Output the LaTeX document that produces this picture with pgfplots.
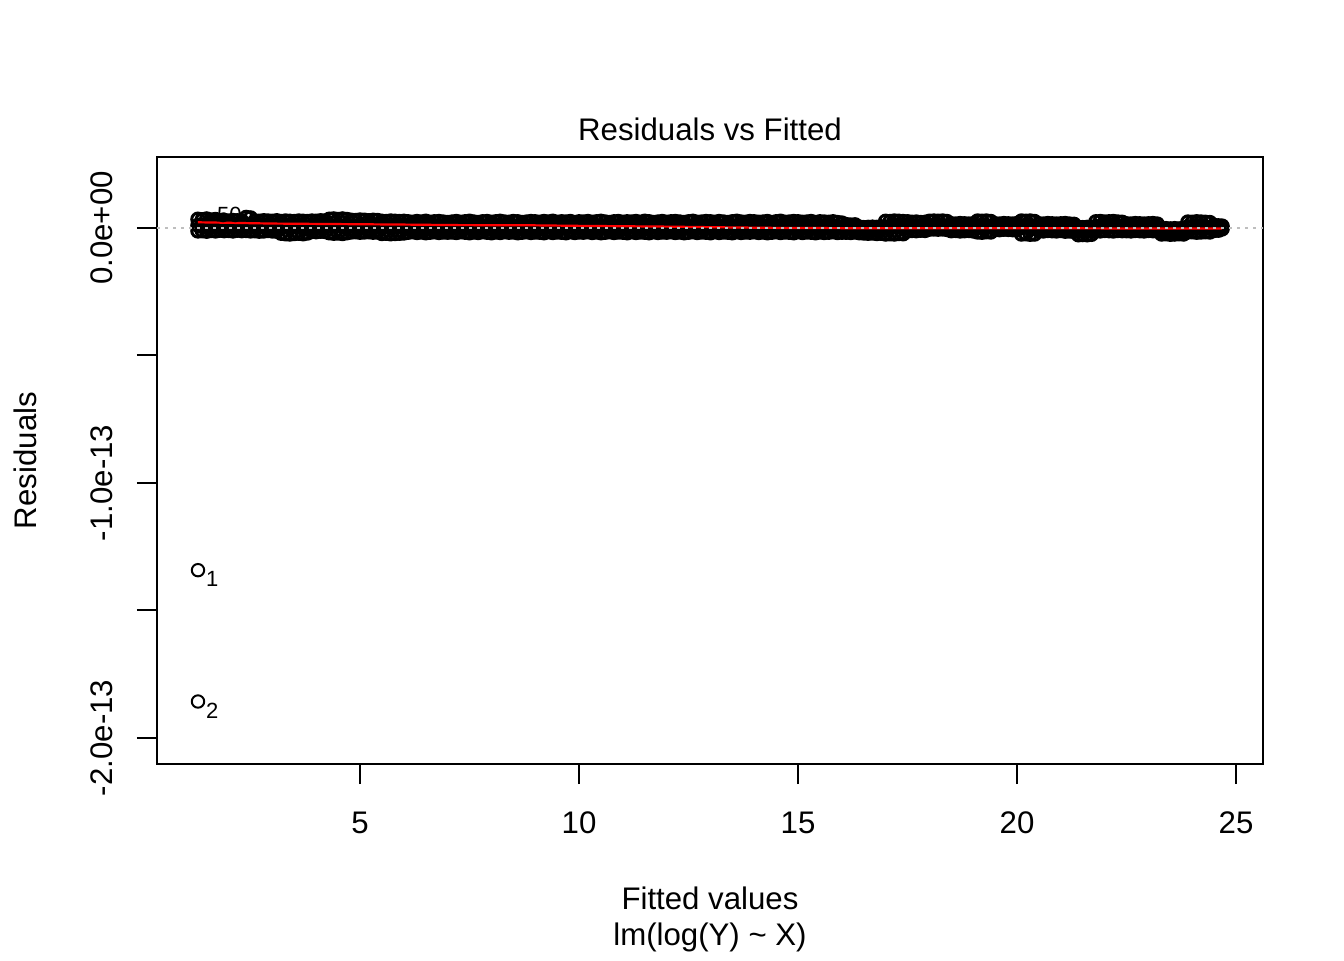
\documentclass[border=0pt]{standalone}
\usepackage{pgfplots}
\pgfplotsset{compat=1.18}
\usepackage{pgfplotstable}
\usepackage{fontspec}
\setmainfont{Liberation Sans}
\definecolor{rgray}{RGB}{190,190,190}
\newcommand{\mainfont}{\fontsize{15.6}{18}\selectfont}
\newcommand{\idfont}{\fontsize{11}{13}\selectfont}
\pgfplotstableread{
x u l m
1.3 0.034 -0.012 0.010
1.4 0.032 -0.011 0.008
1.5 0.035 -0.013 0.011
1.6 0.031 -0.010 0.009
1.7 0.033 -0.012 0.007
1.8 0.028 -0.009 0.010
1.9 0.029 -0.011 0.006
2.0 0.027 -0.010 0.009
2.1 0.029 -0.012 0.008
2.2 0.028 -0.009 0.006
2.3 0.027 -0.011 0.010
2.4 0.041 -0.010 0.008
2.5 0.039 -0.012 0.007
2.6 0.027 -0.011 0.009
2.7 0.026 -0.013 0.006
2.8 0.028 -0.012 0.008
2.9 0.027 -0.010 0.007
3.0 0.026 -0.012 0.009
3.1 0.028 -0.013 0.006
3.2 0.025 -0.021 0.004
3.3 0.027 -0.023 0.005
3.4 0.026 -0.024 0.003
3.5 0.025 -0.022 0.006
3.6 0.027 -0.021 0.004
3.7 0.026 -0.023 0.005
3.8 0.025 -0.020 0.003
3.9 0.027 -0.014 0.006
4.0 0.026 -0.015 0.005
4.1 0.028 -0.013 0.007
4.2 0.027 -0.014 0.006
4.3 0.034 -0.019 0.008
4.4 0.035 -0.021 0.007
4.5 0.033 -0.020 0.009
4.6 0.035 -0.022 0.006
4.7 0.033 -0.019 0.008
4.8 0.030 -0.016 0.007
4.9 0.029 -0.015 0.005
5.0 0.031 -0.017 0.008
5.1 0.030 -0.016 0.006
5.2 0.028 -0.015 0.007
5.3 0.030 -0.017 0.005
5.4 0.029 -0.016 0.006
5.5 0.026 -0.022 0.004
5.6 0.025 -0.021 0.005
5.7 0.027 -0.023 0.003
5.8 0.026 -0.022 0.004
5.9 0.025 -0.021 0.005
6.0 0.026 -0.020 0.003
6.1 0.024 -0.017 0.004
6.2 0.022 -0.015 0.002
6.3 0.025 -0.018 0.005
6.4 0.023 -0.016 0.003
6.5 0.026 -0.019 0.006
6.6 0.022 -0.017 0.004
6.7 0.024 -0.015 0.003
6.8 0.025 -0.018 0.005
6.9 0.023 -0.016 0.002
7.0 0.021 -0.017 0.004
7.1 0.023 -0.016 0.003
7.2 0.025 -0.018 0.005
7.3 0.022 -0.015 0.004
7.4 0.024 -0.017 0.002
7.5 0.026 -0.019 0.006
7.6 0.023 -0.016 0.003
7.7 0.021 -0.018 0.005
7.8 0.024 -0.015 0.004
7.9 0.025 -0.017 0.002
8.0 0.022 -0.019 0.003
8.1 0.024 -0.016 0.005
8.2 0.026 -0.018 0.004
8.3 0.023 -0.015 0.006
8.4 0.022 -0.017 0.003
8.5 0.025 -0.016 0.002
8.6 0.024 -0.019 0.004
8.7 0.021 -0.017 0.005
8.8 0.023 -0.015 0.003
8.9 0.025 -0.018 0.004
9.0 0.024 -0.016 0.002
9.1 0.022 -0.017 0.005
9.2 0.025 -0.019 0.003
9.3 0.023 -0.015 0.004
9.4 0.026 -0.018 0.006
9.5 0.022 -0.016 0.002
9.6 0.024 -0.017 0.004
9.7 0.023 -0.019 0.003
9.8 0.025 -0.015 0.005
9.9 0.021 -0.018 0.004
10.0 0.024 -0.016 0.003
10.1 0.023 -0.017 0.002
10.2 0.025 -0.015 0.005
10.3 0.022 -0.018 0.004
10.4 0.024 -0.016 0.003
10.5 0.026 -0.019 0.006
10.6 0.023 -0.017 0.002
10.7 0.021 -0.015 0.004
10.8 0.024 -0.018 0.005
10.9 0.025 -0.016 0.003
11.0 0.022 -0.017 0.004
11.1 0.024 -0.019 0.002
11.2 0.023 -0.015 0.005
11.3 0.025 -0.018 0.003
11.4 0.022 -0.016 0.004
11.5 0.026 -0.017 0.006
11.6 0.024 -0.019 0.002
11.7 0.021 -0.015 0.004
11.8 0.023 -0.018 0.003
11.9 0.025 -0.016 0.005
12.0 0.022 -0.017 0.004
12.1 0.024 -0.015 0.003
12.2 0.025 -0.018 0.002
12.3 0.023 -0.016 0.005
12.4 0.021 -0.019 0.004
12.5 0.024 -0.017 0.003
12.6 0.026 -0.015 0.006
12.7 0.022 -0.018 0.002
12.8 0.023 -0.016 0.004
12.9 0.025 -0.017 0.003
13.0 0.024 -0.019 0.005
13.1 0.022 -0.015 0.004
13.2 0.025 -0.018 0.002
13.3 0.023 -0.016 0.003
13.4 0.021 -0.017 0.005
13.5 0.024 -0.019 0.004
13.6 0.026 -0.015 0.003
13.7 0.023 -0.018 0.006
13.8 0.022 -0.016 0.002
13.9 0.025 -0.017 0.004
14.0 0.024 -0.015 0.003
14.1 0.022 -0.018 0.005
14.2 0.023 -0.016 0.004
14.3 0.025 -0.019 0.002
14.4 0.021 -0.017 0.003
14.5 0.024 -0.015 0.005
14.6 0.026 -0.018 0.004
14.7 0.022 -0.016 0.006
14.8 0.023 -0.017 0.002
14.9 0.025 -0.019 0.004
15.0 0.024 -0.015 0.003
15.1 0.022 -0.018 0.005
15.2 0.023 -0.016 0.002
15.3 0.025 -0.017 0.004
15.4 0.021 -0.019 0.003
15.5 0.024 -0.016 0.005
15.6 0.023 -0.018 0.004
15.7 0.022 -0.017 0.002
15.8 0.024 -0.015 0.003
15.9 0.021 -0.018 0.004
16.0 0.019 -0.017 0.003
16.1 0.013 -0.017 0.002
16.2 0.011 -0.018 0.001
16.3 0.012 -0.016 0.000
16.4 0.003 -0.019 -0.004
16.5 0.001 -0.020 -0.006
16.6 0.002 -0.021 -0.005
16.7 0.003 -0.020 -0.004
16.8 0.002 -0.022 -0.006
16.9 0.004 -0.021 -0.005
17.0 0.026 -0.024 0.004
17.1 0.025 -0.023 0.003
17.2 0.027 -0.024 0.005
17.3 0.026 -0.022 0.004
17.4 0.025 -0.023 0.003
17.5 0.024 -0.012 0.005
17.6 0.022 -0.010 0.004
17.7 0.023 -0.011 0.006
17.8 0.021 -0.009 0.003
17.9 0.022 -0.010 0.005
18.0 0.026 -0.005 0.007
18.1 0.027 -0.004 0.008
18.2 0.026 -0.005 0.006
18.3 0.027 -0.004 0.009
18.4 0.025 -0.006 0.007
18.5 0.016 -0.011 0.002
18.6 0.015 -0.010 0.003
18.7 0.017 -0.012 0.001
18.8 0.016 -0.011 0.003
18.9 0.015 -0.010 0.002
19.0 0.016 -0.012 0.001
19.1 0.027 -0.016 0.005
19.2 0.026 -0.017 0.004
19.3 0.027 -0.015 0.006
19.4 0.025 -0.016 0.004
19.5 0.016 -0.006 0.004
19.6 0.015 -0.007 0.003
19.7 0.017 -0.005 0.005
19.8 0.016 -0.006 0.004
19.9 0.015 -0.007 0.003
20.0 0.017 -0.006 0.005
20.1 0.027 -0.024 0.002
20.2 0.026 -0.023 0.003
20.3 0.027 -0.025 0.001
20.4 0.025 -0.024 0.002
20.5 0.016 -0.011 0.003
20.6 0.015 -0.012 0.002
20.7 0.017 -0.010 0.004
20.8 0.016 -0.011 0.003
20.9 0.015 -0.012 0.002
21.0 0.016 -0.010 0.004
21.1 0.017 -0.013 0.002
21.2 0.015 -0.012 0.003
21.3 0.014 -0.014 0.001
21.4 0.002 -0.027 -0.010
21.5 0.001 -0.026 -0.012
21.6 0.002 -0.027 -0.011
21.7 0.003 -0.025 -0.010
21.8 0.024 -0.011 0.005
21.9 0.025 -0.012 0.004
22.0 0.023 -0.010 0.006
22.1 0.024 -0.011 0.005
22.2 0.025 -0.012 0.004
22.3 0.023 -0.010 0.006
22.4 0.022 -0.011 0.004
22.5 0.016 -0.011 0.002
22.6 0.015 -0.012 0.003
22.7 0.017 -0.010 0.001
22.8 0.016 -0.011 0.003
22.9 0.015 -0.012 0.002
23.0 0.016 -0.010 0.001
23.1 0.017 -0.011 0.003
23.2 0.015 -0.012 0.002
23.3 -0.004 -0.024 -0.014
23.4 -0.003 -0.023 -0.013
23.5 -0.004 -0.025 -0.015
23.6 -0.003 -0.024 -0.014
23.7 -0.004 -0.023 -0.013
23.8 -0.002 -0.024 -0.012
23.9 0.023 -0.016 0.004
24.0 0.022 -0.015 0.003
24.1 0.024 -0.017 0.005
24.2 0.023 -0.016 0.004
24.3 0.022 -0.015 0.003
24.4 0.021 -0.016 0.002
24.5 0.010 -0.010 0.000
24.6 0.008 -0.009 -0.001
24.68 0.007 -0.004 0.001
}\resid
\begin{document}
\begin{tikzpicture}
\path[use as bounding box] (0,0) rectangle (672pt,480pt);
\begin{axis}[
  at={(78.5pt,98pt)}, anchor=south west,
  scale only axis, width=553pt, height=303.5pt,
  xmin=0.365, xmax=25.615, ymin=-2.102, ymax=0.278,
  clip mode=individual,
  axis line style={line width=1pt},
  xtick={5,10,15,20,25}, xticklabels={5,10,15,20,25},
  ytick={-2,-1.5,-1,-0.5,0},
  yticklabels={-2.0e-13,,-1.0e-13,,0.0e+00},
  tick align=outside, xtick pos=bottom, ytick pos=left,
  major tick length=10pt,
  major tick style={line width=1pt, black},
  minor tick num=0,
  tick label style={font=\mainfont},
  xticklabel style={anchor=base, yshift=-24.5pt},
  yticklabel style={xshift=-12pt, rotate=90, anchor=base},
  title={Residuals vs Fitted},
  title style={at={(0.5,1.0066)}, anchor=base, font=\mainfont, inner sep=0pt},
  xlabel={Fitted values},
  xlabel style={at={(0.5,-0.2405)}, anchor=base, font=\mainfont, inner sep=0pt},
  ylabel={Residuals},
  ylabel style={at={(-0.1085,0.5)}, anchor=base, font=\mainfont, inner sep=0pt},
]
\addplot[only marks, mark=o, mark size=3.1pt, mark options={line width=1.5pt, black}] table[x=x,y=u]{\resid};
\addplot[only marks, mark=o, mark size=3.1pt, mark options={line width=1.5pt, black}] table[x=x,y=m]{\resid};
\addplot[only marks, mark=o, mark size=3.1pt, mark options={line width=1.5pt, black}] table[x=x,y=l]{\resid};
\addplot[only marks, mark=o, mark size=3.1pt, mark options={line width=1pt, black}] coordinates {(1.301,-1.342) (1.301,-1.857)};
\addplot[color=red, line width=1.1pt, mark=none] coordinates {(1.3,0.022) (2.0,0.020) (3.0,0.017) (4.5,0.015) (6,0.013) (7.2,0.011) (9,0.010) (10,0.008) (12,0.005) (13.4,0.002) (14.5,0.000) (16,-0.001) (18,-0.001) (20,-0.001) (22,-0.002) (24.68,-0.002)};
\addplot[color=rgray, line width=0.8pt, dash pattern=on 1.5pt off 2.5pt, mark=none] coordinates {(0.365,0) (25.615,0)};
\node[anchor=west, inner sep=0pt, font=\idfont, xshift=3.9pt, yshift=-4.5pt] at (axis cs:1.301,-1.342) {1};
\node[anchor=west, inner sep=0pt, font=\idfont, xshift=3.9pt, yshift=-4.5pt] at (axis cs:1.301,-1.857) {2};
\node[anchor=west, inner sep=0pt, font=\idfont] at (axis cs:1.73,0.049) {50};
\node[anchor=base, inner sep=0pt, font=\mainfont] at (axis description cs:0.5,-0.2982) {lm(log(Y) \textasciitilde{} X)};
\end{axis}
\end{tikzpicture}
\end{document}
